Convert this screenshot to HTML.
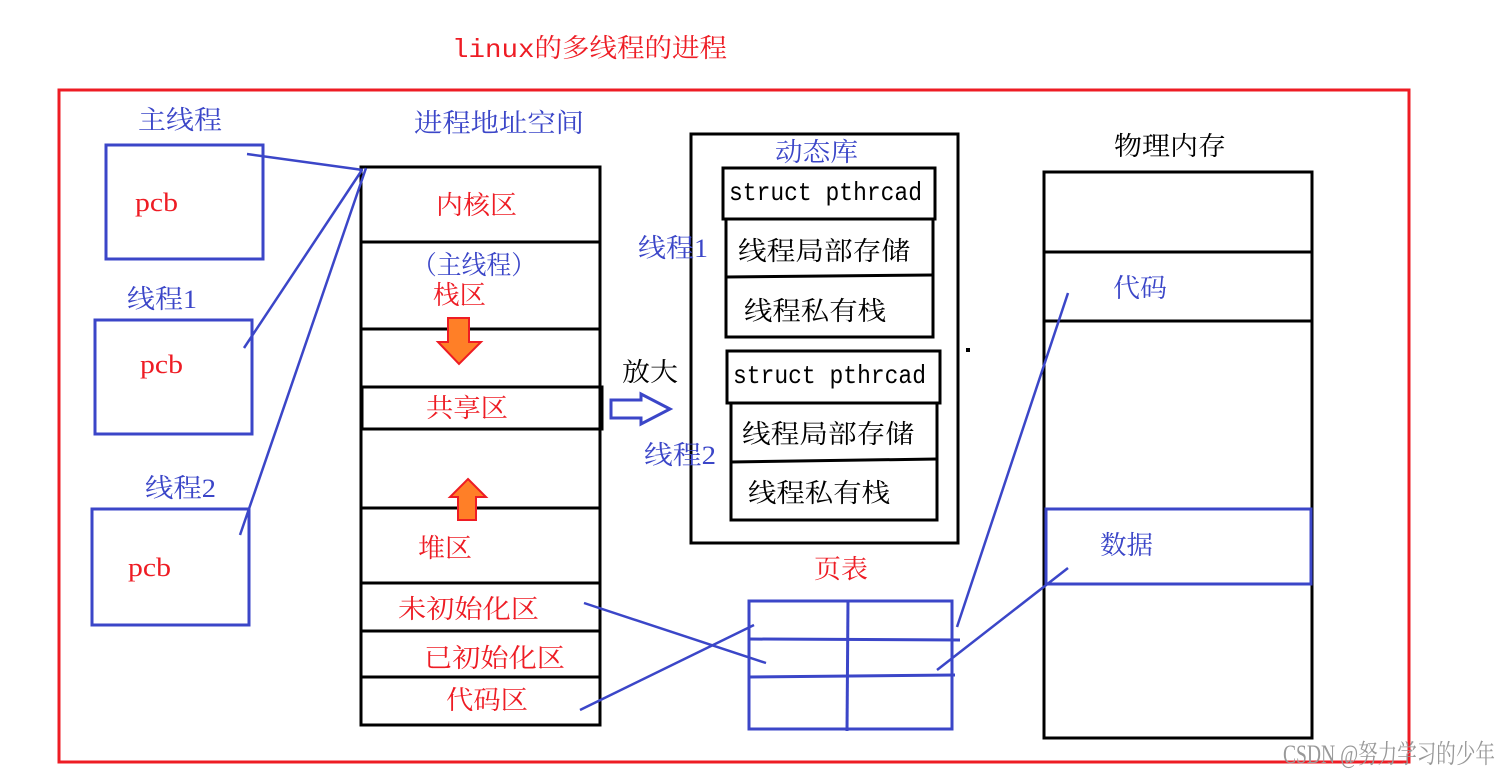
<!DOCTYPE html>
<html><head><meta charset="utf-8"><style>
html,body{margin:0;padding:0;background:#fff;width:1511px;height:777px;overflow:hidden}
svg{display:block}
text{font-family:"Liberation Serif","Noto Serif CJK SC",serif;font-size:26px}
.b{fill:#3b46c8}.r{fill:#ee1c24}.k{fill:#000}
.m{font-family:"Liberation Mono","Noto Serif CJK SC",monospace}
</style></head><body>
<svg width="1511" height="777" viewBox="0 0 1511 777">
<text x="452" y="57" class="r m" font-size="25" textLength="275" lengthAdjust="spacingAndGlyphs">linux的多线程的进程</text>
<rect x="59" y="90" width="1350" height="672" fill="none" stroke="#ee1c24" stroke-width="3"/>

<g fill="none" stroke="#3b46c8" stroke-width="3">
<rect x="106" y="145" width="157" height="114"/>
<rect x="95" y="320" width="157" height="114"/>
<rect x="92" y="509" width="157" height="116"/>
</g>
<text x="138" y="129" class="b" textLength="84" lengthAdjust="spacingAndGlyphs">主线程</text>
<text x="135" y="211" class="r" font-size="23" textLength="43" lengthAdjust="spacingAndGlyphs">pcb</text>
<text x="127" y="308" class="b" textLength="70" lengthAdjust="spacingAndGlyphs">线程1</text>
<text x="140" y="373" class="r" font-size="23" textLength="43" lengthAdjust="spacingAndGlyphs">pcb</text>
<text x="145" y="497" class="b" textLength="71" lengthAdjust="spacingAndGlyphs">线程2</text>
<text x="128" y="576" class="r" font-size="23" textLength="43" lengthAdjust="spacingAndGlyphs">pcb</text>

<text x="414" y="132" class="b" textLength="170" lengthAdjust="spacingAndGlyphs">进程地址空间</text>
<g fill="none" stroke="#000" stroke-width="3">
<rect x="361" y="167" width="239" height="558"/>
<line x1="361" y1="242" x2="600" y2="242"/>
<line x1="361" y1="329" x2="600" y2="329"/>
<rect x="362" y="387" width="240" height="42"/>
<line x1="361" y1="508" x2="600" y2="508"/>
<line x1="361" y1="583" x2="600" y2="583"/>
<line x1="361" y1="631" x2="600" y2="631"/>
<line x1="361" y1="677" x2="600" y2="677"/>
</g>
<text x="436" y="214" class="r" textLength="81" lengthAdjust="spacingAndGlyphs">内核区</text>
<text x="412" y="274" class="b" textLength="124" lengthAdjust="spacingAndGlyphs">（主线程）</text>
<text x="433" y="304" class="r" textLength="53" lengthAdjust="spacingAndGlyphs">栈区</text>
<text x="426" y="417" class="r" textLength="82" lengthAdjust="spacingAndGlyphs">共享区</text>
<text x="418" y="557" class="r" textLength="54" lengthAdjust="spacingAndGlyphs">堆区</text>
<text x="398" y="618" class="r" textLength="141" lengthAdjust="spacingAndGlyphs">未初始化区</text>
<text x="424" y="667" class="r" textLength="141" lengthAdjust="spacingAndGlyphs">已初始化区</text>
<text x="446" y="709" class="r" textLength="82" lengthAdjust="spacingAndGlyphs">代码区</text>
<polygon points="448,318 469,318 469,342 481,342 459,364 438,342 448,342" fill="#ff7f27" stroke="#ee1c24" stroke-width="2"/>
<polygon points="468,479 486,497 476,497 476,520 458,520 458,497 450,497" fill="#ff7f27" stroke="#ee1c24" stroke-width="2"/>

<text x="622" y="381" class="k" textLength="56" lengthAdjust="spacingAndGlyphs">放大</text>
<polygon points="611,400 641,400 641,394 670,409 641,424 641,418 611,418" fill="none" stroke="#3b46c8" stroke-width="3"/>

<g fill="none" stroke="#000" stroke-width="3">
<rect x="691" y="134" width="267" height="409"/>
<rect x="723" y="168" width="212" height="51"/>
<rect x="726" y="219" width="207" height="118"/>
<line x1="726" y1="277" x2="933" y2="275"/>
<rect x="727" y="351" width="213" height="52"/>
<rect x="731" y="403" width="206" height="117"/>
<line x1="731" y1="462" x2="937" y2="459"/>
</g>
<text x="775" y="161" class="b" textLength="83" lengthAdjust="spacingAndGlyphs">动态库</text>
<text x="729" y="200" class="k m" font-size="22" textLength="193" lengthAdjust="spacingAndGlyphs">struct pthrcad</text>
<text x="733" y="383" class="k m" font-size="22" textLength="193" lengthAdjust="spacingAndGlyphs">struct pthrcad</text>
<text x="738" y="260" class="k" textLength="172" lengthAdjust="spacingAndGlyphs">线程局部存储</text>
<text x="744" y="320" class="k" textLength="142" lengthAdjust="spacingAndGlyphs">线程私有栈</text>
<text x="742" y="443" class="k" textLength="172" lengthAdjust="spacingAndGlyphs">线程局部存储</text>
<text x="748" y="502" class="k" textLength="142" lengthAdjust="spacingAndGlyphs">线程私有栈</text>
<text x="638" y="257" class="b" textLength="70" lengthAdjust="spacingAndGlyphs">线程1</text>
<text x="644" y="464" class="b" textLength="72" lengthAdjust="spacingAndGlyphs">线程2</text>
<rect x="966" y="348" width="4" height="4" fill="#000"/>

<text x="814" y="578" class="r" textLength="54" lengthAdjust="spacingAndGlyphs">页表</text>
<g fill="none" stroke="#3b46c8" stroke-width="3">
<rect x="749" y="601" width="203" height="128"/>
<line x1="848" y1="600" x2="847" y2="731"/>
<line x1="749" y1="639" x2="960" y2="640"/>
<line x1="749" y1="677" x2="955" y2="675"/>
</g>

<text x="1114" y="155" class="k" textLength="112" lengthAdjust="spacingAndGlyphs">物理内存</text>
<g fill="none" stroke="#000" stroke-width="3">
<rect x="1044" y="172" width="268" height="566"/>
<line x1="1044" y1="252" x2="1312" y2="252"/>
<line x1="1044" y1="321" x2="1312" y2="321"/>
</g>
<rect x="1046" y="509" width="265" height="75" fill="none" stroke="#3b46c8" stroke-width="3"/>
<text x="1113" y="297" class="b" textLength="54" lengthAdjust="spacingAndGlyphs">代码</text>
<text x="1100" y="554" class="b" textLength="53" lengthAdjust="spacingAndGlyphs">数据</text>

<g stroke="#3b46c8" stroke-width="2.5" fill="none">
<line x1="247" y1="154" x2="363" y2="170"/>
<line x1="244" y1="348" x2="362" y2="170"/>
<line x1="240" y1="535" x2="366" y2="168"/>
<line x1="584" y1="603" x2="766" y2="663"/>
<line x1="580" y1="710" x2="754" y2="625"/>
<line x1="957" y1="627" x2="1068" y2="293"/>
<line x1="937" y1="670" x2="1068" y2="568"/>
</g>

<text x="1283" y="763" fill="#999" font-family="Liberation Sans,'Noto Sans CJK SC',sans-serif" font-size="15" textLength="212" lengthAdjust="spacingAndGlyphs">CSDN @努力学习的少年</text>
</svg>
</body></html>
